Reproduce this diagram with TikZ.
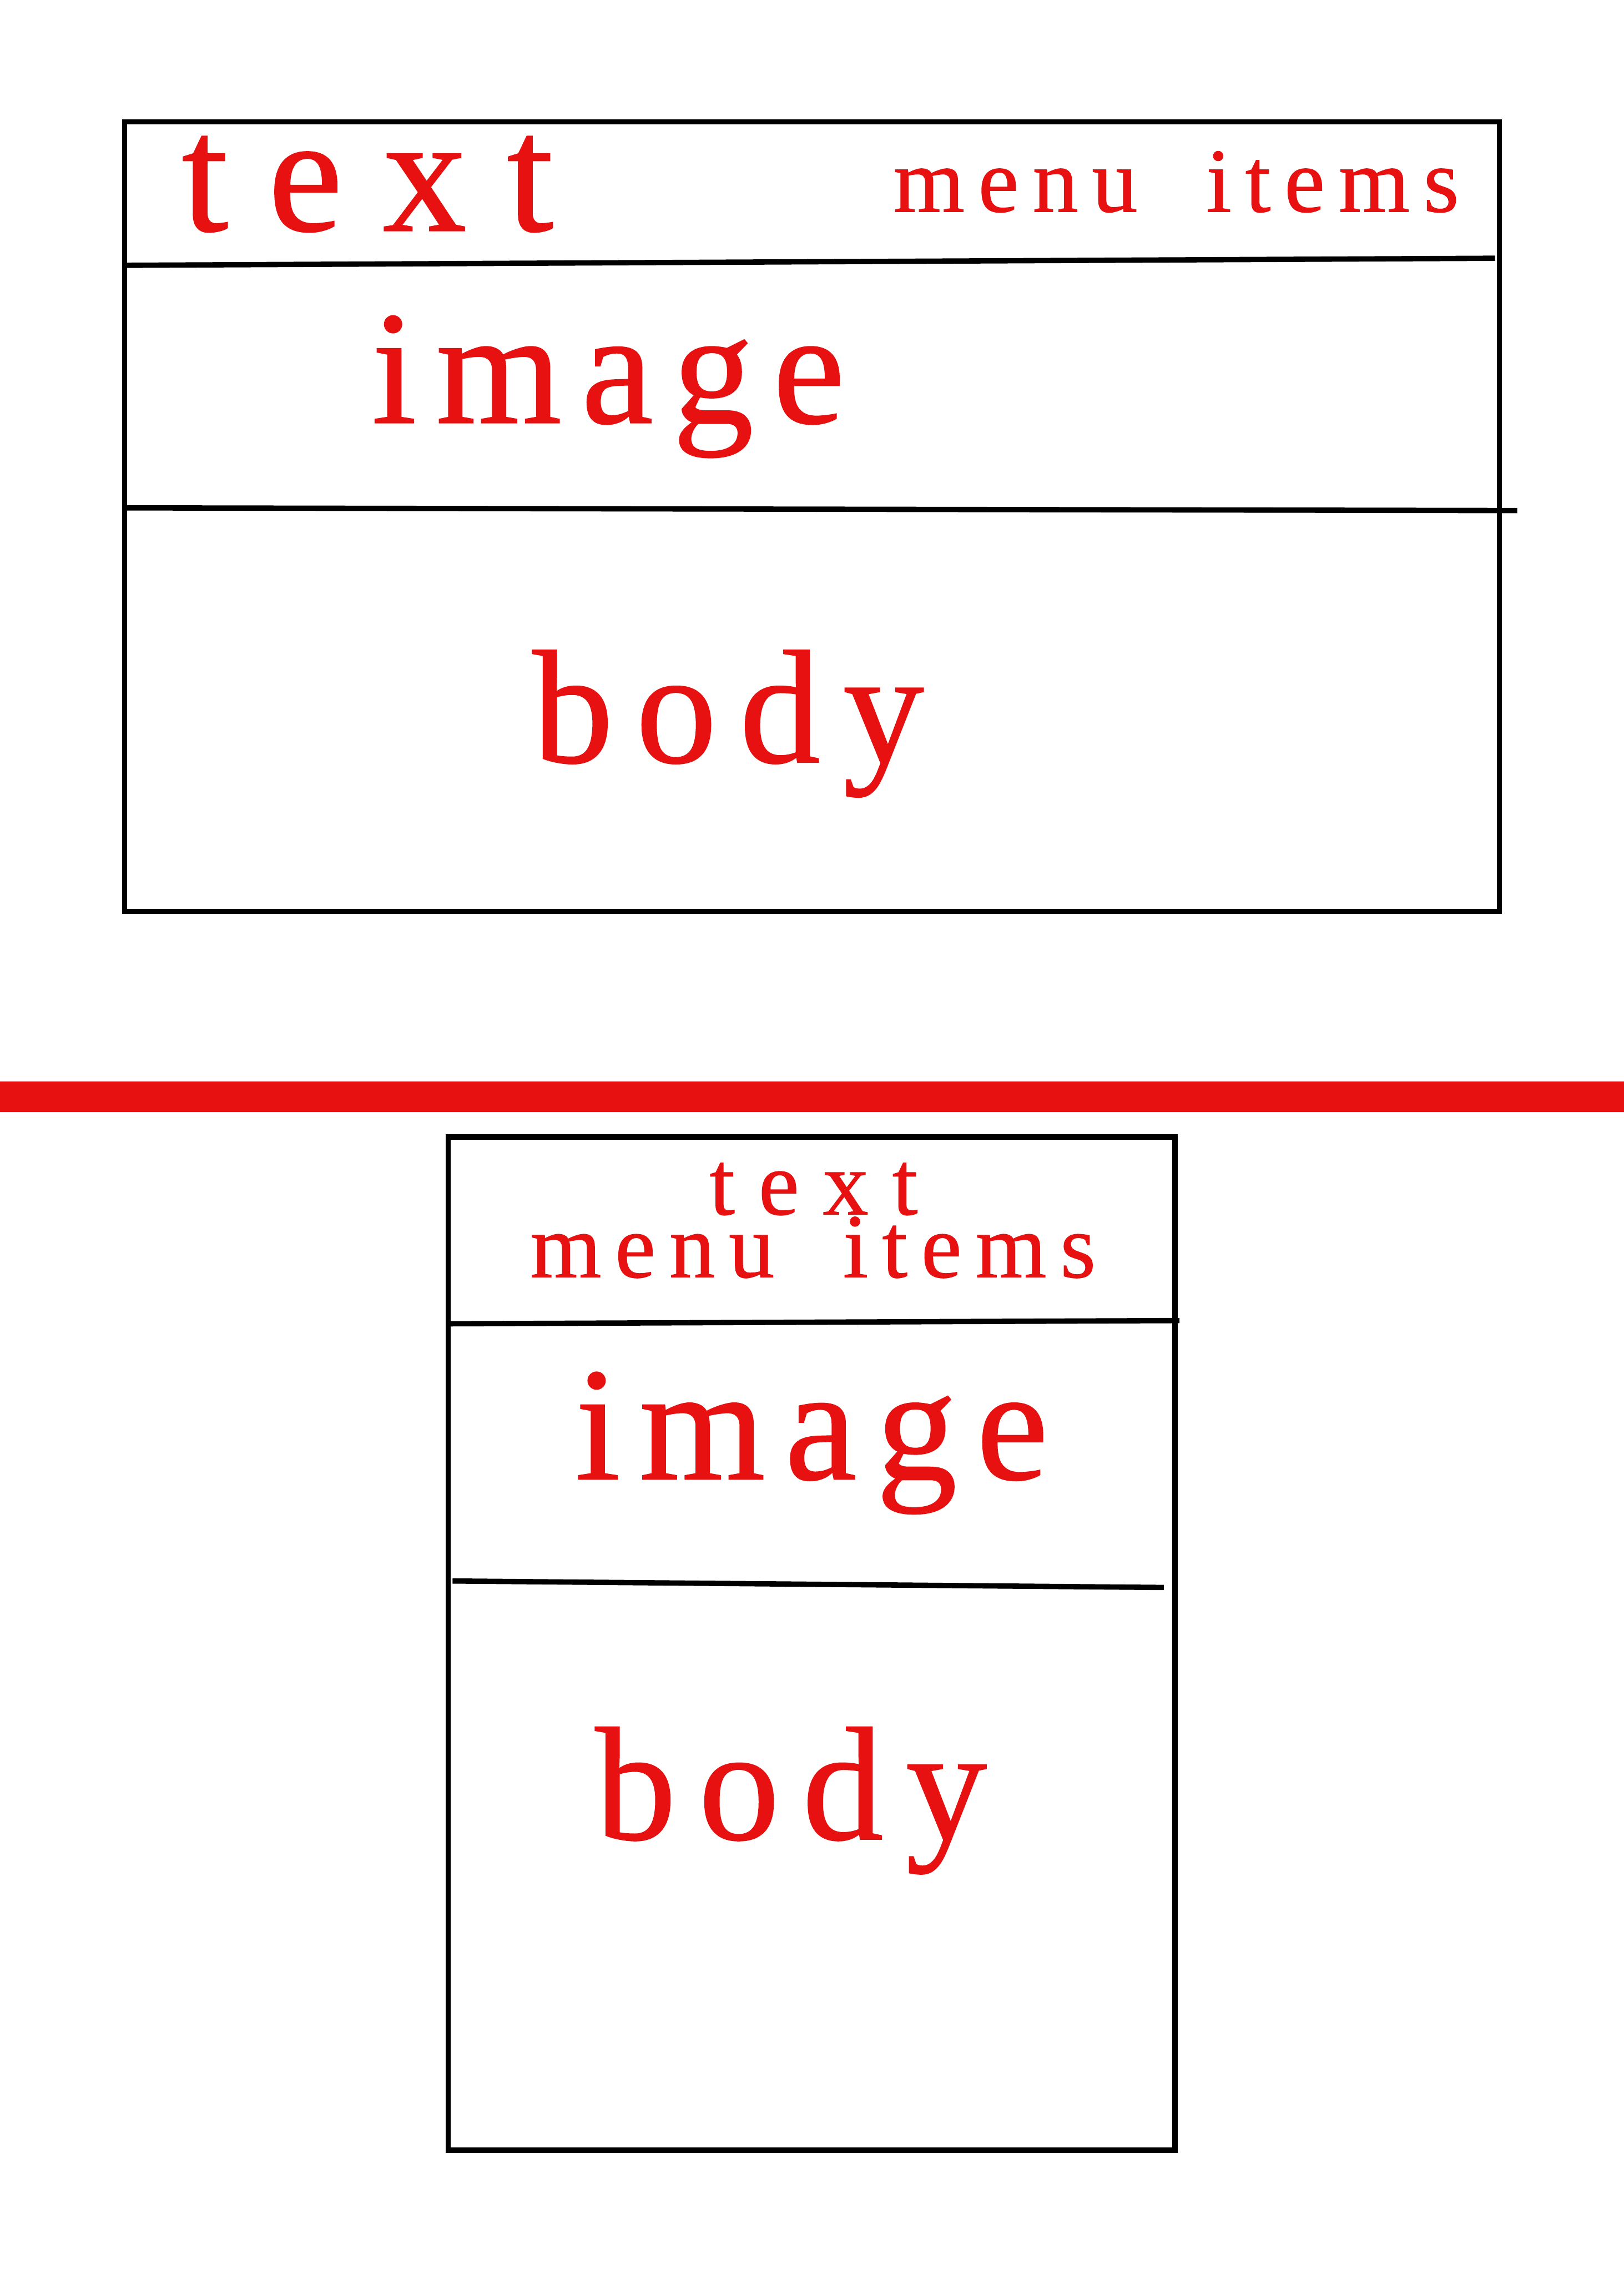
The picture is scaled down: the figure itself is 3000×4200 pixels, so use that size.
\documentclass[tikz,border=0pt]{standalone}
\usepackage{fontspec}
\setmainfont{Liberation Serif}[FakeBold=0.7]
\definecolor{redink}{RGB}{232,17,17}

\begin{document}
\begin{tikzpicture}[x=0.01cm, y=-0.01cm,
    frame/.style={draw, line width=2.8pt},
    word/.style={text=redink, anchor=base west, inner sep=0pt},
    bigword/.style={word, font=\fontsize{85pt}{85pt}\selectfont\addfontfeature{LetterSpace=#1}},
    smallword/.style={word, font=\fontsize{48pt}{48pt}\selectfont\addfontfeature{LetterSpace=#1}}]

    \useasboundingbox (0,0) rectangle (3000,4200);

    % wide layout
    \draw [frame] (230,225) rectangle (2770,1683);
    \draw [frame] (230,490) -- (2762,477);
    \draw [frame] (230,938) -- (2803,943);
    \node [bigword=24, font=\fontsize{88pt}{88pt}\selectfont\addfontfeature{LetterSpace=24}] (toptext) at (335,426) {text};
    \node [smallword=15] (topmenu) at (1650,391) {menu\hspace{0.75em}items};
    \node [bigword=12] (topimage) at (686,781) {image};
    \node [bigword=14] (topbody) at (983,1408) {body};

    % divider
    \fill [redink] (0,1997) rectangle (3000,2054);

    % narrow layout
    \draw [frame] (828,2100) rectangle (2171,3971);
    \draw [frame] (828,2445) -- (2179,2439);
    \draw [frame] (836,2920) -- (2150,2932);
    \node [smallword=26] (bottext) at (1310,2243) {text};
    \node [smallword=15] (botmenu) at (979,2359) {menu\hspace{0.75em}items};
    \node [bigword=12] (botimage) at (1062,2732) {image};
    \node [bigword=14] (botbody) at (1099,3397) {body};
\end{tikzpicture}
\end{document}
